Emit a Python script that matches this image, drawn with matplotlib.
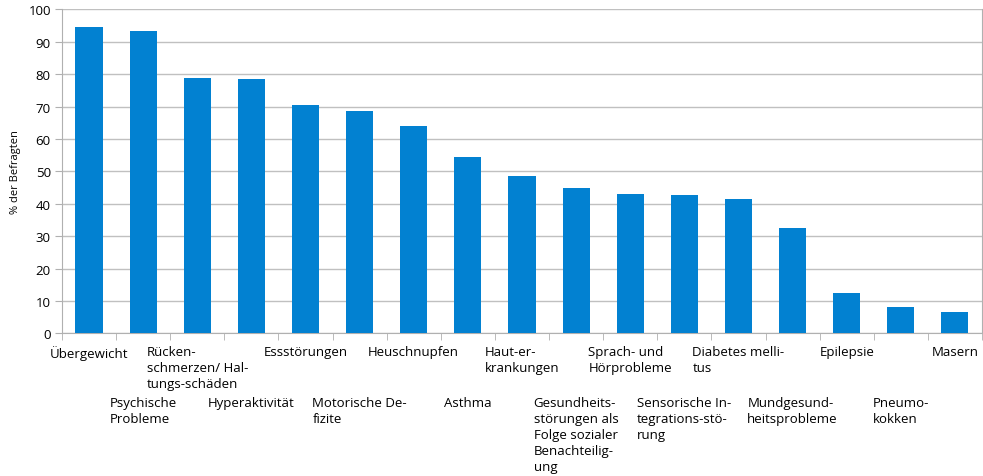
import matplotlib.pyplot as plt
import numpy as np

# Daten
kategorien = [
    "Übergewicht",
    "Psychische\nProbleme",
    "Rücken-\nschmerzen/ Hal-\ntungs-schäden",
    "Hyperaktivität",
    "Essstörungen",
    "Motorische De-\nfizite",
    "Heuschnupfen",
    "Asthma",
    "Haut-er-\nkrankungen",
    "Gesundheits-\nstörungen als\nFolge sozialer\nBenachteilig-\nung",
    "Sprach- und\nHörprobleme",
    "Sensorische In-\ntegrations-stö-\nrung",
    "Diabetes melli-\ntus",
    "Mundgesund-\nheitsprobleme",
    "Epilepsie",
    "Pneumo-\nkokken",
    "Masern",
]
werte = [94.6, 93.4, 78.9, 78.6, 70.5, 68.7, 64.1, 54.5, 48.7, 44.9,
         43.0, 42.7, 41.5, 32.5, 12.5, 8.1, 6.6]
y_ticks = [0, 10, 20, 30, 40, 50, 60, 70, 80, 90, 100]

plt.rcParams['font.family'] = ['Open Sans', 'DejaVu Sans']

fig = plt.figure(figsize=(9.83, 4.77), dpi=100)
ax = fig.add_axes([0.063, 0.299, 0.936, 0.679])

x = np.arange(len(kategorien))
ax.bar(x, werte, width=0.5, color='#0281d1', zorder=3)

ax.set_xlim(-0.5, len(kategorien) - 0.5)
ax.set_ylim(0, 100)
ax.set_yticks(y_ticks)
ax.tick_params(axis='y', length=5, color='#b0b0b0', labelsize=9.5, pad=3)
ax.yaxis.grid(True, color='#c0c0c0', linewidth=1, zorder=0)

# Trennstriche zwischen Kategorien
ax.set_xticks(np.arange(len(kategorien) + 1) - 0.5, minor=True)
ax.tick_params(axis='x', which='minor', length=5, color='#b0b0b0')
ax.set_xticks(x)
ax.set_xticklabels(kategorien, fontsize=9.5)
ax.tick_params(axis='x', which='major', length=0)
for i, tick in enumerate(ax.xaxis.get_major_ticks()):
    tick.set_pad(8.5 if i % 2 == 0 else 45)
    tick.label1.set_multialignment('left')
    tick.label1.set_verticalalignment('top')
    tick.label1.set_linespacing(1.3)

ax.spines['top'].set_visible(False)
for side in ['left', 'bottom', 'right']:
    ax.spines[side].set_color('#b0b0b0')

ax.set_ylabel("% der Befragten", fontsize=8, labelpad=5)

fig.savefig('out.png', dpi=100)
